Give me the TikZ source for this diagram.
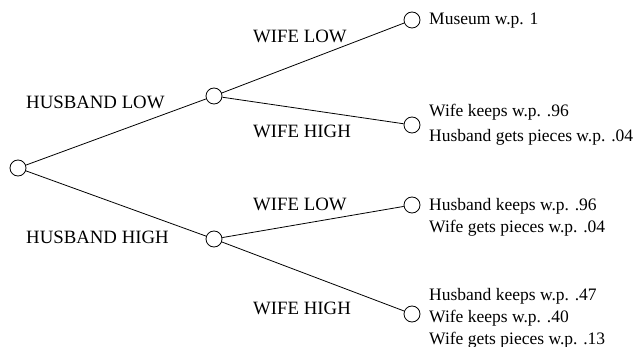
\documentclass[tikz,border=0pt]{standalone}
\usepackage{fontspec}
\setmainfont{Liberation Serif}
\usepackage{tikz}
\tikzstyle{chance} = [circle, draw, line width=0.8pt, minimum size=16pt, inner sep=0pt]
\tikzstyle{move} = [anchor=west, inner sep=0pt, font=\fontsize{18.8}{22}\selectfont]
\tikzstyle{outcome} = [anchor=west, inner sep=0pt, align=left, font=\fontsize{17.5}{22}\selectfont]
\tikzstyle{branch} = [line width=0.8pt]

\begin{document}
\begin{tikzpicture}[x=1pt, y=-1pt]
        \useasboundingbox (0,0) rectangle (634,347);
        \node (root) [chance] at (18,168) {};
        \node (h_low) [chance] at (214,96) {};
        \node (h_high) [chance] at (214,239) {};
        \node (ll) [chance] at (412,20) {};
        \node (lh) [chance] at (412,125) {};
        \node (hl) [chance] at (412,205) {};
        \node (hh) [chance] at (412,314) {};

        \draw [branch] (root) -- (h_low);
        \draw [branch] (root) -- (h_high);
        \draw [branch] (h_low) -- (ll);
        \draw [branch] (h_low) -- (lh);
        \draw [branch] (h_high) -- (hl);
        \draw [branch] (h_high) -- (hh);

        \node (lbl_hlow) [move] at (26,102) {HUSBAND LOW};
        \node (lbl_hhigh) [move] at (26,237) {HUSBAND HIGH};
        \node (lbl_ll) [move] at (253,36) {WIFE LOW};
        \node (lbl_lh) [move] at (253,131) {WIFE HIGH};
        \node (lbl_hl) [move] at (253,204) {WIFE LOW};
        \node (lbl_hh) [move] at (253,308) {WIFE HIGH};

        \node (out_ll) [outcome] at (429,21) {Museum w.p. 1};
        \node (out_lh) [outcome] at (429,124.7) {Wife keeps w.p. .96\\[3pt]Husband gets pieces w.p. .04};
        \node (out_hl) [outcome] at (429,217) {Husband keeps w.p. .96\\Wife gets pieces w.p. .04};
        \node (out_hh) [outcome] at (429,318.4) {Husband keeps w.p. .47\\Wife keeps w.p. .40\\Wife gets pieces w.p. .13};
    \end{tikzpicture}
\end{document}
